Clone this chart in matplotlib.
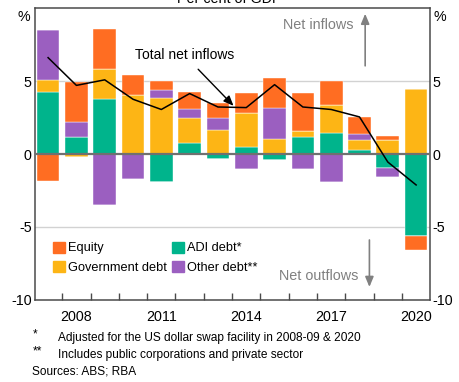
import numpy as np
import matplotlib
matplotlib.use("Agg")
import matplotlib.pyplot as plt
from matplotlib.patches import Patch

plt.rcParams['font.family'] = ['Liberation Sans', 'DejaVu Sans']

years = np.arange(2007, 2021)

# Components of net capital inflows, per cent of GDP
adi_debt = [4.25, 1.14, 3.75, 0.0, -1.93, 0.77, -0.34, 0.48, -0.41, 1.16, 1.45, 0.27, -0.95, -5.64]
gov_debt = [0.80, -0.20, 2.07, 4.02, 3.82, 1.70, 1.66, 2.36, 1.04, 0.41, 1.89, 0.70, 0.95, 4.43]
other_debt = [3.45, 1.02, -3.52, -1.73, 0.55, 0.59, 0.80, -1.02, 2.10, -1.02, -1.93, 0.41, -0.64, 0.0]
equity = [-1.82, 2.77, 2.75, 1.37, 0.64, 1.16, 1.05, 1.36, 2.04, 2.63, 1.68, 1.14, 0.27, -0.95]
total_net = [6.60, 4.70, 5.08, 3.75, 3.05, 4.14, 3.22, 3.18, 4.75, 3.22, 3.05, 2.54, -0.55, -2.12]

series = [
    ("ADI debt*", adi_debt, "#00B48C"),
    ("Government debt", gov_debt, "#FDB515"),
    ("Other debt**", other_debt, "#9B5FC0"),
    ("Equity", equity, "#FF6D22"),
]

fig = plt.figure(figsize=(4.59, 3.82), dpi=100)
ax = fig.add_axes([0.0752, 0.2147, 0.8616, 0.7643])

pos_base = np.zeros(len(years))
neg_base = np.zeros(len(years))
for name, vals, col in series:
    v = np.array(vals, dtype=float)
    pos = np.where(v > 0, v, 0)
    neg = np.where(v < 0, v, 0)
    ax.bar(years, pos, bottom=pos_base, width=0.8, color=col,
           edgecolor='white', linewidth=0.3, zorder=2)
    ax.bar(years, neg, bottom=neg_base, width=0.8, color=col,
           edgecolor='white', linewidth=0.3, zorder=2)
    pos_base += pos
    neg_base += neg

ax.plot(years, total_net, color='black', lw=1.1, zorder=4)

ax.set_xlim(2006.52, 2020.49)
ax.set_ylim(-10, 10)

for yv in (5, -5):
    ax.axhline(yv, color='#d2d2d2', lw=1.0, zorder=1)
ax.axhline(0, color='#707070', lw=1.6, zorder=3)

for s in ax.spines.values():
    s.set_color('#4a4a4a')
    s.set_linewidth(1.1)

tick_fs = 10.3
ax.set_yticks([-10, -5, 0, 5])
ax.set_yticklabels(['-10', '-5', '0', '5'])
ax.tick_params(axis='y', length=0, labelsize=tick_fs, pad=2,
               left=True, right=True, labelleft=True, labelright=True)
ax.set_xticks([2008, 2011, 2014, 2017, 2020])
ax.set_xticklabels(['2008', '2011', '2014', '2017', '2020'])
ax.set_xticks(np.arange(2007.5, 2020, 1.0), minor=True)
ax.tick_params(axis='x', which='major', length=0, labelsize=tick_fs, pad=7)
ax.tick_params(axis='x', which='minor', direction='in', length=5,
               width=1.0, color='#4a4a4a')

# Percent unit labels at the top of each axis
ax.text(-0.012, 0.97, '%', transform=ax.transAxes, ha='right', va='center', fontsize=tick_fs)
ax.text(1.008, 0.97, '%', transform=ax.transAxes, ha='left', va='center', fontsize=tick_fs)

# Title, partly above the top edge
fig.text(0.5, 1 - 3 / 382, 'Per cent of GDP', ha='center', va='baseline', fontsize=10.3)

# Direction annotations
grey = '#808080'
ax.text(2016.53, 8.85, 'Net inflows', color=grey, fontsize=10.4, ha='center', va='center')
ax.annotate('', xy=(2018.2, 9.8), xytext=(2018.2, 5.85),
            arrowprops=dict(arrowstyle='-|>,head_length=0.6,head_width=0.25',
                            color=grey, lw=1.2))
ax.text(2016.57, -8.36, 'Net outflows', color=grey, fontsize=10.4, ha='center', va='center')
ax.annotate('', xy=(2018.35, -9.3), xytext=(2018.35, -5.7),
            arrowprops=dict(arrowstyle='-|>,head_length=0.6,head_width=0.25',
                            color=grey, lw=1.2))

ax.annotate('Total net inflows', xy=(2013.55, 3.3), xytext=(2011.83, 6.75),
            ha='center', va='center', fontsize=10,
            arrowprops=dict(arrowstyle='-|>,head_length=0.6,head_width=0.25',
                            color='black', lw=1.0, shrinkA=4, shrinkB=0))

handles = [Patch(color=c) for c in ("#FF6D22", "#FDB515", "#00B48C", "#9B5FC0")]
labels = ["Equity", "Government debt", "ADI debt*", "Other debt**"]
ax.legend(handles, labels, ncol=2, loc='upper left', bbox_to_anchor=(0.046, 0.2),
          frameon=False, fontsize=9.2, handlelength=0.95, handleheight=0.95,
          handletextpad=0.22, columnspacing=0.4, labelspacing=0.5,
          borderpad=0, borderaxespad=0)

# Footnotes
fs = 8.6
fig.text(33 / 459, 1 - 334 / 382, '*', fontsize=fs, va='center', ha='left')
fig.text(58 / 459, 1 - 338 / 382, 'Adjusted for the US dollar swap facility in 2008-09 & 2020',
         fontsize=fs, va='center', ha='left')
fig.text(33 / 459, 1 - 351 / 382, '**', fontsize=fs, va='center', ha='left')
fig.text(58 / 459, 1 - 355 / 382, 'Includes public corporations and private sector',
         fontsize=fs, va='center', ha='left')
fig.text(32 / 459, 1 - 372 / 382, 'Sources: ABS; RBA', fontsize=fs, va='center', ha='left')

fig.savefig('out.png', dpi=100)
